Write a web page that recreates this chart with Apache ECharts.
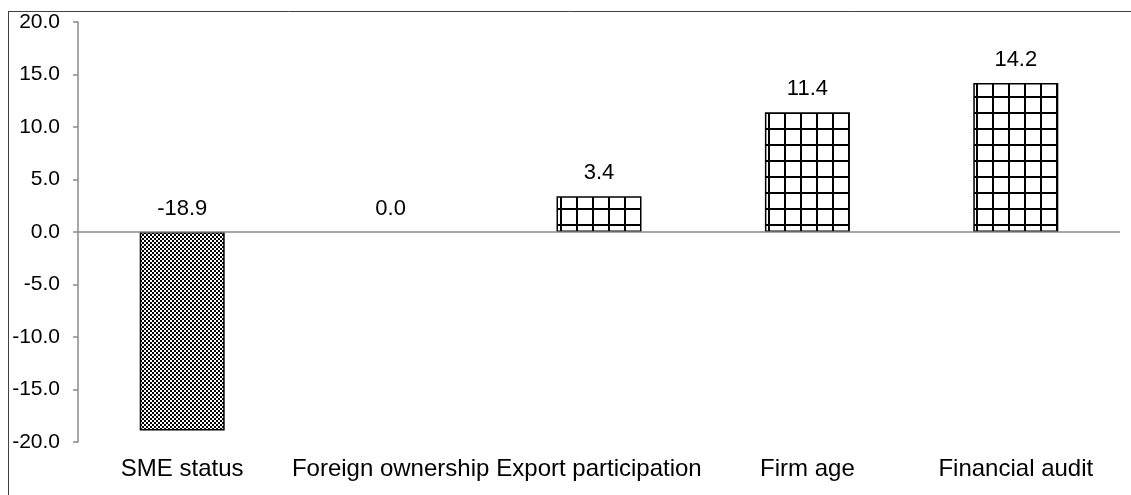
<!DOCTYPE html>
<html>
<head>
<meta charset="utf-8">
<script src="https://cdn.jsdelivr.net/npm/echarts@6/dist/echarts.min.js"></script>
<style>
  html, body { margin: 0; padding: 0; background: #fff; }
  #chart { width: 1131px; height: 495px; }
</style>
</head>
<body>
<div id="chart"></div>
<script>
// Determinants and their estimated effects
const categories = ['SME status', 'Foreign ownership', 'Export participation', 'Firm age', 'Financial audit'];
const values = [-18.9, 0.0, 3.4, 11.4, 14.2];
const yTicks = { min: -20, max: 20, interval: 5 };

// Fill patterns: fine checkerboard for negative effects, square grid for positive ones
function checkerPattern() {
  const c = document.createElement('canvas');
  c.width = 4; c.height = 4;
  const g = c.getContext('2d');
  g.fillStyle = '#fff'; g.fillRect(0, 0, 4, 4);
  g.fillStyle = '#000';
  g.fillRect(0, 0, 2, 2);
  g.fillRect(2, 2, 2, 2);
  return c;
}
function gridPattern() {
  const c = document.createElement('canvas');
  c.width = 16; c.height = 16;
  const g = c.getContext('2d');
  g.fillStyle = '#fff'; g.fillRect(0, 0, 16, 16);
  g.fillStyle = '#000';
  g.fillRect(0, 0, 2, 16);
  g.fillRect(0, 0, 16, 2);
  return c;
}
const negFill = { image: checkerPattern(), repeat: 'repeat' };
const posFill = { image: gridPattern(), repeat: 'repeat' };

const FONT = '"Liberation Sans", Arial, sans-serif';

const chart = echarts.init(document.getElementById('chart'), null, { renderer: 'canvas' });
chart.setOption({
  animation: false,
  backgroundColor: '#fff',
  grid: { left: 78, right: 11, top: 22, bottom: 53, containLabel: false },
  xAxis: {
    type: 'category',
    data: categories,
    axisLine: { show: false, onZero: false },
    axisTick: { show: false },
    axisLabel: { color: '#000', fontSize: 24, fontFamily: FONT, margin: 15, interval: 0 },
    splitLine: { show: false }
  },
  yAxis: {
    type: 'value',
    min: yTicks.min, max: yTicks.max, interval: yTicks.interval,
    axisLine: { show: true, lineStyle: { color: '#8a8a8a', width: 1.5 } },
    axisTick: { show: true, length: 5, lineStyle: { color: '#8a8a8a', width: 1.5 } },
    axisLabel: { color: '#000', fontSize: 21, fontFamily: FONT, margin: 18,
      formatter: v => v.toFixed(1) },
    splitLine: { show: false }
  },
  series: [{
    type: 'bar',
    barWidth: 85,
    data: values.map(v => ({
      value: v,
      itemStyle: {
        color: v < 0 ? negFill : posFill,
        borderWidth: v === 0 ? 0 : 1.5
      }
    })),
    itemStyle: { borderColor: '#000', borderWidth: 1.5 },
    label: {
      show: true, position: 'top', distance: 12,
      color: '#000', fontSize: 22, fontFamily: FONT,
      formatter: p => p.value.toFixed(1)
    },
    markLine: {
      silent: true, symbol: 'none',
      label: { show: false },
      lineStyle: { color: '#8a8a8a', type: 'solid', width: 1.5 },
      data: [{ yAxis: 0 }]
    }
  }],
  graphic: [
    { type: 'line', shape: { x1: 8, y1: 11.5, x2: 1131, y2: 11.5 }, style: { stroke: '#404040', lineWidth: 1 } },
    { type: 'line', shape: { x1: 8.5, y1: 11, x2: 8.5, y2: 495 }, style: { stroke: '#404040', lineWidth: 1 } }
  ]
});
</script>
</body>
</html>
